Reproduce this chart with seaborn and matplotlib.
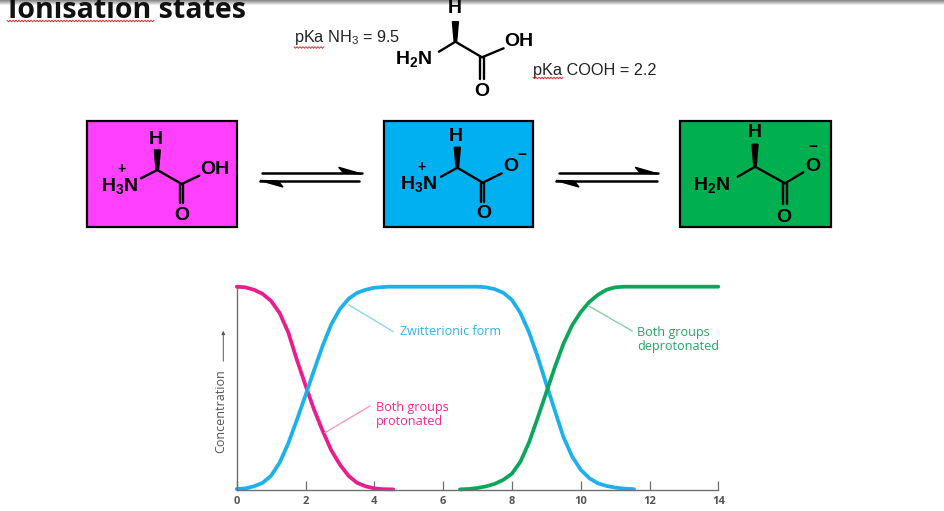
import numpy as np
import pandas as pd
import matplotlib
matplotlib.use('Agg')
import matplotlib.pyplot as plt
import seaborn as sns
from matplotlib.patches import Rectangle, Polygon

pink_x = [0, 0.25, 0.5, 0.75, 1, 1.25, 1.5, 1.75, 2.05, 2.25, 2.5, 2.75, 3, 3.25, 3.5, 3.75, 4, 4.25, 4.55]
pink_y = [1, 0.997, 0.985, 0.965, 0.93, 0.87, 0.775, 0.64, 0.49, 0.395, 0.29, 0.195, 0.125, 0.07, 0.035, 0.018, 0.008, 0.004, 0.003]
blue_x = [0, 0.25, 0.5, 0.75, 1, 1.25, 1.5, 1.75, 2.05, 2.25, 2.5, 2.75, 3, 3.25, 3.5, 3.75, 4, 4.4, 6.5,
          7, 7.25, 7.5, 7.75, 8, 8.25, 8.5, 8.75, 9.03, 9.25, 9.5, 9.75, 10, 10.25, 10.5, 10.75, 11, 11.25, 11.55]
blue_y = [0.005, 0.008, 0.018, 0.035, 0.07, 0.135, 0.23, 0.345, 0.49, 0.59, 0.71, 0.815, 0.89, 0.94, 0.97, 0.985, 0.995, 1, 1,
          1, 0.997, 0.988, 0.97, 0.935, 0.87, 0.775, 0.655, 0.505, 0.39, 0.26, 0.165, 0.10, 0.058, 0.033, 0.02, 0.012, 0.007, 0.004]
green_x = [6.49, 6.75, 7, 7.25, 7.5, 7.75, 8, 8.25, 8.5, 8.75, 9.03, 9.25, 9.5, 9.75, 10, 10.25, 10.5, 10.75, 11, 11.25, 14]
green_y = [0.003, 0.005, 0.01, 0.018, 0.03, 0.05, 0.08, 0.14, 0.235, 0.355, 0.495, 0.605, 0.72, 0.81, 0.875, 0.925, 0.96, 0.985, 0.997, 1, 1]
x_ticks = [0, 2, 4, 6, 8, 10, 12, 14]

curves = pd.concat([
    pd.DataFrame({'pH': pink_x, 'conc': pink_y, 'form': 'protonated'}),
    pd.DataFrame({'pH': blue_x, 'conc': blue_y, 'form': 'zwitterion'}),
    pd.DataFrame({'pH': green_x, 'conc': green_y, 'form': 'deprotonated'}),
])
curve_colors = {'protonated': '#ec1c8c', 'zwitterion': '#1cb0ec', 'deprotonated': '#0aa65a'}

sns.set_style('white')
plt.rcParams['font.family'] = ['Open Sans', 'DejaVu Sans']
plt.rcParams['mathtext.fontset'] = 'custom'
plt.rcParams['mathtext.rm'] = 'Liberation Sans'
plt.rcParams['mathtext.bf'] = 'Liberation Sans:bold'
W, H = 944, 511
fig = plt.figure(figsize=(W / 100, H / 100), dpi=100)

# overlay in pixel coordinates for the diagram parts
bg = fig.add_axes([0, 0, 1, 1])
bg.set_xlim(0, W)
bg.set_ylim(H, 0)
bg.axis('off')


def squiggle(x0, x1, y):
    xs = np.arange(x0, x1, 1.5)
    ys = y + np.where(np.arange(len(xs)) % 2 == 0, -0.8, 0.8)
    bg.plot(xs, ys, color='#e03030', lw=0.7)


def label(x, y, s, size=14, ha='center'):
    bg.text(x, y, s, ha=ha, va='center', fontsize=size, fontweight='bold',
            family=['Liberation Sans'], color='black', zorder=5)


def molecule(cx, cy, n_end, c2, o_end, db_end, wedge_top, lw=1.7):
    bg.plot([n_end[0], cx, c2[0], o_end[0]], [n_end[1], cy, c2[1], o_end[1]],
            color='black', lw=lw, solid_joinstyle='miter', zorder=5)
    bg.plot([c2[0] - 1.7] * 2, [c2[1], db_end], color='black', lw=lw, zorder=5)
    bg.plot([c2[0] + 1.7] * 2, [c2[1], db_end], color='black', lw=lw, zorder=5)
    bg.add_patch(Polygon([(cx - 1.2, cy), (cx + 1.2, cy), (cx + 3, wedge_top), (cx - 3, wedge_top)],
                         color='black', zorder=5))


def eq_arrow(x0, x1, xb0, xb1):
    bg.plot([x0, x1], [173.3, 173.3], color='black', lw=1.8)
    bg.plot([xb0, xb1], [181, 181], color='black', lw=1.8)
    bg.add_patch(Polygon([(x1, 174), (x1 - 23, 167.3), (x1 - 18, 173)], color='black'))
    bg.add_patch(Polygon([(xb0, 180.5), (xb0 + 23, 187), (xb0 + 18, 181)], color='black'))


# grey shadow band along the top edge, behind the title
shade = np.linspace(0.55, 1, 6).reshape(-1, 1)
bg.imshow(shade, cmap='gray', vmin=0, vmax=1, extent=[0, W, 6, 0], aspect='auto', zorder=1)
bg.set_xlim(0, W)
bg.set_ylim(H, 0)

# title and top molecule
bg.text(8, 18.3, 'Ionisation states', fontsize=20.5, fontweight='bold', color='#111111',
        family=['Open Sans'], ha='left', va='baseline', zorder=5)
squiggle(7, 155, 21)
bg.text(294, 37.5, r'pKa NH$\mathrm{_3}$ = 9.5', fontsize=11.7, family=['Liberation Sans'], va='center', color='#222222')
bg.text(533, 70, 'pKa COOH = 2.2', fontsize=11.7, family=['Liberation Sans'], va='center', color='#222222')
squiggle(294, 325, 47.5)
squiggle(533, 564, 78)
molecule(455.4, 41.7, (439, 51.7), (482, 57.3), (503.6, 48.3), 79.3, 21.7)
label(455, 8.5, 'H')
label(519, 42, 'OH')
label(414, 59, r'$\mathbf{H_2N}$')
label(482, 91, 'O')

# three boxes
for box, face in [((86.7, 236.7), '#ff40ff'), ((384, 532.7), '#00b0f0'), ((680, 831), '#00b050')]:
    bg.add_patch(Rectangle((box[0], 121), box[1] - box[0], 106, facecolor=face,
                           edgecolor='black', lw=1.6, zorder=2))

molecule(157.3, 170, (141, 178.3), (181.7, 184), (199.3, 175.7), 203.3, 150)
label(155.3, 139, 'H')
label(215, 169.3, 'OH')
label(119.3, 186, r'$\mathbf{H_3N}$')
label(121.7, 169, '+', 10)
label(182.3, 215, 'O')

molecule(457.3, 167.7, (441, 176.7), (482.7, 182.7), (501.7, 173.3), 202.3, 147.3)
label(455.7, 136.5, 'H')
label(510.7, 166.7, 'O')
label(522, 155, '\u2212', 11)
label(418.3, 184, r'$\mathbf{H_3N}$')
label(421, 166.5, '+', 10)
label(483.7, 213.7, 'O')

molecule(755, 166.7, (737.7, 176.7), (785, 183.3), (803.3, 172.3), 204.3, 144.3)
label(755, 132.3, 'H')
label(813.3, 166.7, 'O')
label(813.3, 147, '\u2212', 11)
label(711.7, 185, r'$\mathbf{H_2N}$')
label(784.3, 217.3, 'O')

eq_arrow(261.7, 361.7, 260, 359.3)
eq_arrow(559, 658.3, 556, 656.7)

# concentration chart
ax = fig.add_axes([236.7 / W, (H - 490) / H, 481.6 / W, 203.3 / H])
ax.patch.set_alpha(0)
sns.lineplot(data=curves, x='pH', y='conc', hue='form', palette=curve_colors, sort=False,
             estimator=None, lw=2.7, legend=False, clip_on=False, ax=ax)
ax.set_xlim(0, 14)
ax.set_ylim(0, 1)
ax.set_xlabel('')
ax.set_ylabel('')
ax.set_yticks([])
ax.set_xticks(x_ticks)
ax.tick_params(axis='x', direction='in', length=6.5, width=0.9, color='#6d6e71',
               labelsize=8, labelcolor='#555555', pad=4, bottom=True)
for t in ax.get_xticklabels():
    t.set_fontweight('bold')
for side in ['top', 'right']:
    ax.spines[side].set_visible(False)
for side in ['left', 'bottom']:
    ax.spines[side].set_color('#6d6e71')
    ax.spines[side].set_linewidth(1.0)

# labels and leaders on top of the chart
top = fig.add_axes([0, 0, 1, 1])
top.set_xlim(0, W)
top.set_ylim(H, 0)
top.axis('off')
top.text(400, 331.5, 'Zwitterionic form', color='#2fb3ec', fontsize=9, va='center')
top.text(376, 414.5, 'Both groups\nprotonated', color='#ec2a90', fontsize=9.1, va='center', linespacing=1.05)
top.text(637, 339.5, 'Both groups\ndeprotonated', color='#20a865', fontsize=9.1, va='center', linespacing=1.05)
top.plot([393.3, 349], [331.7, 305], color='#8fd6f2', lw=1.0)
top.plot([370, 325], [406, 432.7], color='#f59ac6', lw=1.0)
top.plot([632.3, 588.3], [331, 305.7], color='#86d0a8', lw=1.0)
top.text(221, 411.5, 'Concentration', rotation=90, color='#555555', fontsize=9, ha='center', va='center')
top.annotate('', xy=(223.3, 328), xytext=(223.3, 364),
             arrowprops=dict(arrowstyle='-|>', color='#555555', lw=0.7, mutation_scale=5))

fig.savefig('out.png', dpi=100)
